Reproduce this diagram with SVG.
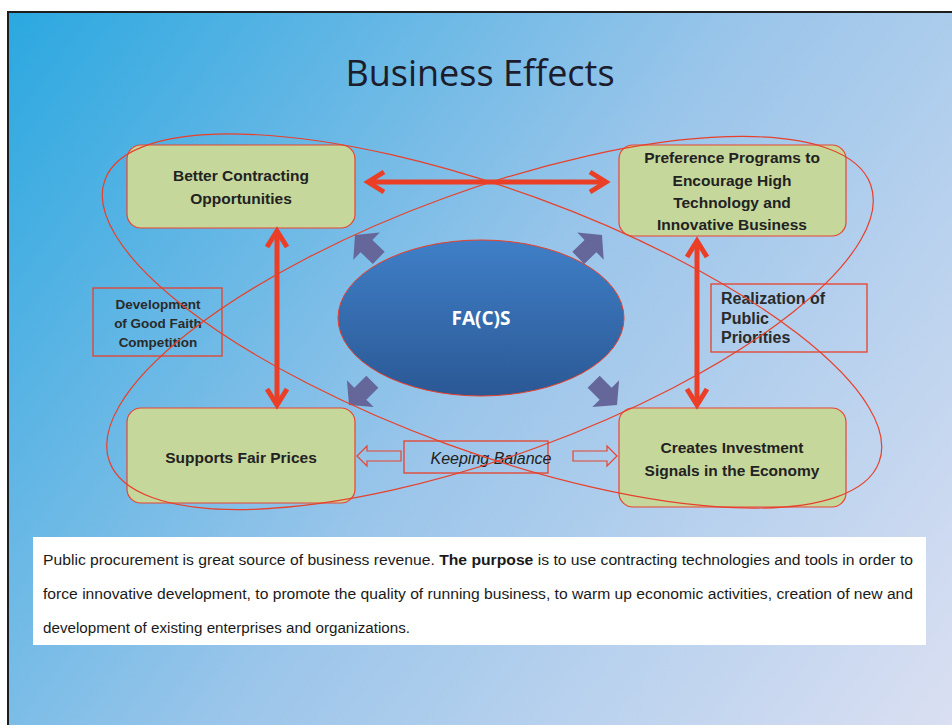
<svg xmlns="http://www.w3.org/2000/svg" xmlns:xlink="http://www.w3.org/1999/xlink" width="952" height="725" viewBox="0 0 952 725">
<defs>
<linearGradient id="bg" gradientUnits="userSpaceOnUse" x1="8" y1="12" x2="952" y2="725">
<stop offset="0" stop-color="#2ba8e0"/>
<stop offset="0.5" stop-color="#9ac5ea"/>
<stop offset="1" stop-color="#dadff2"/>
</linearGradient>
<linearGradient id="core" x1="0" y1="0" x2="0" y2="1">
<stop offset="0" stop-color="#3f7fc7"/>
<stop offset="1" stop-color="#2b5895"/>
</linearGradient>
<path id="blk" d="M0,0 L-16,-19 L-16,-8.5 L-33,-8.5 L-33,8.5 L-16,8.5 L-16,19 Z"/>
<path id="hollow" d="M0,0 L-10,-10 L-10,-5 L-44,-5 L-44,5 L-10,5 L-10,10 Z"/>
</defs>
<style>
.box{fill:#c6d79c;stroke:#e8452f;stroke-width:1.2}
.lbl{font-family:"Liberation Sans",Arial,sans-serif;font-weight:bold;font-size:15.5px;fill:#222;text-anchor:middle}
.side{font-family:"Liberation Sans",Arial,sans-serif;font-weight:bold;font-size:13.5px;fill:#2a2a2a}
.side16{font-family:"Liberation Sans",Arial,sans-serif;font-weight:bold;font-size:16px;fill:#2a2a2a}
.frame{fill:none;stroke:#e8402a;stroke-width:1.3}
.red{stroke:#ea3f26;stroke-width:5;fill:none}
.hd{stroke:#ea3f26;stroke-width:5;fill:none;stroke-linecap:butt}
.blk{fill:#65679b}
.hol{fill:none;stroke:#e8452f;stroke-width:1.2}
.ring{fill:none;stroke:#e8402a;stroke-width:1.2}
.body{font-family:"Liberation Sans",Arial,sans-serif;font-size:14px;fill:#1a1a1a}
</style>

<rect x="8" y="12" width="960" height="730" fill="url(#bg)" stroke="#1e1e1e" stroke-width="2"/>

<text x="480" y="86" font-family="'Open Sans','Liberation Sans',sans-serif" font-size="36" fill="#1c1c2c" text-anchor="middle">Business Effects</text>

<g id="node-better">
<rect class="box" x="127" y="145" width="228" height="83" rx="14"/>
<text class="lbl" x="241" y="181">Better Contracting</text>
<text class="lbl" x="241" y="204">Opportunities</text>
</g>

<g id="node-preference">
<rect class="box" x="619" y="145" width="227" height="91" rx="14"/>
<text class="lbl" x="732" y="163">Preference Programs to</text>
<text class="lbl" x="732" y="186">Encourage  High</text>
<text class="lbl" x="732" y="208">Technology  and</text>
<text class="lbl" x="732" y="230">Innovative  Business</text>
</g>

<g id="node-fair">
<rect class="box" x="127" y="408" width="228" height="95" rx="14"/>
<text class="lbl" x="241" y="463">Supports Fair Prices</text>
</g>

<g id="node-invest">
<rect class="box" x="619" y="408" width="227" height="99" rx="14"/>
<text class="lbl" x="732" y="453">Creates Investment</text>
<text class="lbl" x="732" y="476">Signals in the Economy</text>
</g>

<g id="node-facs">
<ellipse cx="481" cy="318" rx="143" ry="78" fill="url(#core)" stroke="#e8402a" stroke-width="1"/>
<text x="481" y="325" font-family="'Open Sans','Liberation Sans',sans-serif" font-weight="bold" font-size="19" fill="#ffffff" text-anchor="middle">FA(C)S</text>
</g>

<g id="node-development">
<rect class="frame" x="93" y="288" width="129" height="68"/>
<text class="side" x="158" y="309" text-anchor="middle">Development</text>
<text class="side" x="158" y="328" text-anchor="middle">of Good Faith</text>
<text class="side" x="158" y="347" text-anchor="middle">Competition</text>
</g>

<g id="node-realization">
<rect class="frame" x="711" y="284" width="156" height="68"/>
<text class="side16" x="721" y="304">Realization of</text>
<text class="side16" x="721" y="324">Public</text>
<text class="side16" x="721" y="343">Priorities</text>
</g>

<g id="node-balance">
<rect class="frame" x="404" y="441" width="144" height="32"/>
<text x="491" y="464" font-family="'Liberation Sans',Arial,sans-serif" font-style="italic" font-size="16" fill="#222" text-anchor="middle">Keeping Balance</text>
</g>

<g id="connectors">
<line class="red" x1="369" y1="182" x2="605" y2="182"/>
<polyline class="hd" points="384,172 368,182 384,192"/>
<polyline class="hd" points="590,172 606,182 590,192"/>
<line class="red" x1="277" y1="231" x2="277" y2="404"/>
<polyline class="hd" points="267,247 277,231 287,247"/>
<polyline class="hd" points="267,389 277,405 287,389"/>
<line class="red" x1="697" y1="241" x2="697" y2="404"/>
<polyline class="hd" points="687,257 697,241 707,257"/>
<polyline class="hd" points="687,389 697,405 707,389"/>
<use xlink:href="#blk" class="blk" transform="translate(355,235) rotate(224)"/>
<use xlink:href="#blk" class="blk" transform="translate(602,235) rotate(-44)"/>
<use xlink:href="#blk" class="blk" transform="translate(349,405) rotate(135)"/>
<use xlink:href="#blk" class="blk" transform="translate(617,405) rotate(45)"/>
<use xlink:href="#hollow" class="hol" transform="translate(357,456) rotate(180)"/>
<use xlink:href="#hollow" class="hol" transform="translate(617,456)"/>
</g>

<g id="rings">
<ellipse class="ring" cx="492" cy="321" rx="412" ry="131" transform="rotate(20 492 321)"/>
<ellipse class="ring" cx="490" cy="323" rx="405" ry="133" transform="rotate(-20 490 323)"/>
</g>

<g id="note">
<rect x="33" y="537" width="893" height="108" fill="#ffffff"/>
<text class="body" x="43" y="565" textLength="870" lengthAdjust="spacingAndGlyphs">Public procurement is great source of business revenue. <tspan font-weight="bold">The purpose</tspan> is to use contracting technologies and tools in order to</text>
<text class="body" x="43" y="599" textLength="870" lengthAdjust="spacingAndGlyphs">force innovative development, to promote the quality of running business, to warm up economic activities, creation of new and</text>
<text class="body" x="43" y="633" textLength="367" lengthAdjust="spacingAndGlyphs">development of existing enterprises and organizations.</text>
</g>
</svg>
